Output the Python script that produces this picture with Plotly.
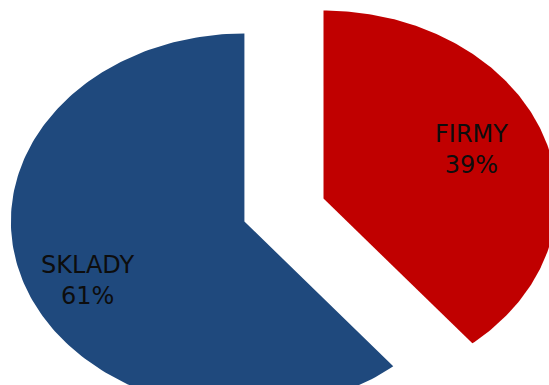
import numpy as np
import plotly.graph_objects as go

labels = ["FIRMY", "SKLADY"]
values = [39, 61]
colors = ["#C00000", "#1F497D"]
pulls = [0.18, 0.18]
label_r = [0.70, 0.74]
label_shift = [(-6, 4), (6, -12)]

total = sum(values)
fig = go.Figure()
start = 0.0
ann = []
for lab, v, c, p, lr, sh in zip(labels, values, colors, pulls, label_r, label_shift):
    frac = v / total
    a0 = start * 2 * np.pi
    a1 = (start + frac) * 2 * np.pi
    mid = (a0 + a1) / 2
    cx, cy = p * np.sin(mid), p * np.cos(mid)
    t = np.linspace(a0, a1, 200)
    xs = np.concatenate([[cx], cx + np.sin(t), [cx]])
    ys = np.concatenate([[cy], cy + np.cos(t), [cy]])
    fig.add_trace(go.Scatter(x=xs, y=ys, fill="toself", fillcolor=c, mode="lines",
                             line=dict(width=0, color=c), hoverinfo="skip", showlegend=False))
    lx, ly = cx + lr * np.sin(mid), cy + lr * np.cos(mid)
    ann.append(dict(x=lx, y=ly, xref="x", yref="y", showarrow=False,
                    xshift=sh[0], yshift=sh[1],
                    text=f"{lab}<br>{round(frac*100)}%",
                    font=dict(family="DejaVu Sans", size=24, color="#0d0d0d"),
                    align="center"))
    start += frac

fig.update_layout(
    width=549, height=385,
    margin=dict(l=0, r=0, t=0, b=0),
    paper_bgcolor="white", plot_bgcolor="white",
    xaxis=dict(range=[-1.216, 1.135], visible=False, fixedrange=True),
    yaxis=dict(range=[-0.931, 1.117], visible=False, fixedrange=True),
    annotations=ann,
)
fig.write_html("out.html")
